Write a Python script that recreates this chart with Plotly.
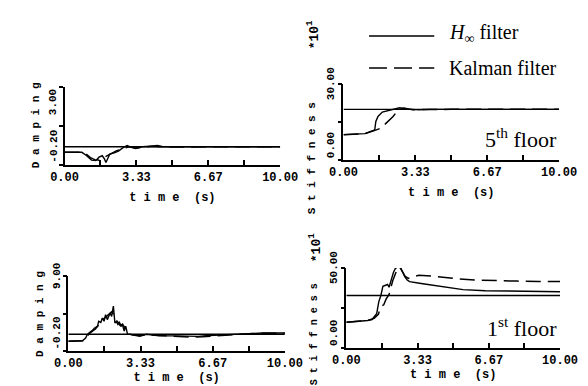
import plotly.graph_objects as go

W, H = 588, 386

# ---------------- data ----------------
time_span = [0, 10]

# 5th floor damping
damp5_true = [0.55, 0.55]
damp5_hinf_t = [0, 0.8, 1.0, 1.15, 1.25, 1.45, 1.6, 1.75, 1.85, 1.92, 2.0, 2.1, 2.3, 2.5, 2.7, 2.9,
                3.1, 3.3, 3.6, 4.0, 4.4, 5.0, 6.0, 7.0, 8.0, 9.0, 10.0]
damp5_hinf_v = [0.32, 0.32, 0.2, 0.07, 0.0, -0.02, 0.12, 0.18, 0.05, -0.1, 0.05, 0.25, 0.3, 0.37, 0.5, 0.6,
                0.52, 0.48, 0.55, 0.57, 0.55, 0.55, 0.55, 0.56, 0.55, 0.55, 0.55]
damp5_kal_t = [0, 0.8, 1.0, 1.2, 1.4, 1.6, 1.8, 2.0, 2.2, 2.4, 2.6, 2.8, 3.0, 3.3, 3.6, 4.0, 4.3, 4.6,
               5.0, 6.0, 7.0, 8.0, 9.0, 10.0]
damp5_kal_v = [0.32, 0.32, 0.25, 0.1, 0.02, 0.0, 0.1, 0.2, 0.28, 0.38, 0.45, 0.5, 0.55, 0.5, 0.52, 0.57,
               0.6, 0.55, 0.54, 0.55, 0.55, 0.55, 0.55, 0.55]

# 5th floor stiffness (*10^1)
stif5_true = [20.0, 20.0]
stif5_hinf_t = [0, 0.5, 1.0, 1.23, 1.45, 1.5, 1.6, 1.8, 2.0, 2.3, 2.6, 3.0, 3.5, 4.0, 5.0, 6.0, 7.0,
                8.0, 9.0, 10.0]
stif5_hinf_v = [10.0, 10.1, 10.4, 11.2, 11.9, 15.2, 17.2, 18.9, 19.4, 20.1, 20.6, 20.1, 19.8, 20.0,
                20.0, 20.0, 20.0, 20.0, 20.0, 20.0]
stif5_kal_t = [0, 1.0, 1.4, 1.6, 1.8, 1.9, 2.1, 2.3, 2.45, 2.6, 2.8, 3.2, 3.6, 4.0, 5.0, 6.0, 7.0,
               8.0, 9.0, 10.0]
stif5_kal_v = [10.0, 10.4, 11.5, 12.0, 12.8, 13.9, 15.5, 17.2, 18.8, 20.0, 20.5, 19.8, 19.9, 20.0,
               20.0, 20.0, 20.0, 20.0, 20.0, 20.0]

# 1st floor damping
damp1_true = [1.85, 1.85]
damp1_hinf_t = [0, 0.65, 0.8, 0.87, 0.99, 1.1, 1.2, 1.35, 1.4, 1.5, 1.57, 1.65, 1.72, 1.8, 1.93, 2.0,
                2.08, 2.15, 2.22, 2.29, 2.36, 2.44, 2.5, 2.58, 2.65, 2.73, 2.95, 3.3, 3.6, 4.2, 4.9,
                5.5, 6.0, 6.5, 7.0, 8.0, 9.0, 10.0]
damp1_hinf_v = [1.0, 1.05, 1.4, 1.8, 2.1, 2.3, 2.6, 2.85, 3.45, 3.3, 3.85, 3.45, 4.25, 3.65, 4.45, 4.05,
                5.3, 3.25, 3.4, 3.05, 3.3, 2.85, 3.0, 2.25, 2.85, 1.9, 1.8, 1.6, 1.85, 1.65, 1.65,
                1.6, 1.6, 1.7, 1.75, 1.9, 2.0, 2.0]
damp1_kal_t = [0, 0.7, 0.85, 0.95, 1.1, 1.25, 1.4, 1.5, 1.6, 1.7, 1.8, 1.9, 2.0, 2.1, 2.2, 2.3, 2.4,
               2.5, 2.6, 2.7, 2.8, 3.0, 3.3, 3.7, 4.2, 5.0, 5.6, 6.2, 6.8, 7.5, 8.5, 10.0]
damp1_kal_v = [1.0, 1.05, 1.5, 1.9, 2.2, 2.5, 3.0, 3.4, 3.7, 3.9, 4.1, 4.3, 4.6, 4.3, 3.6, 3.3, 2.9,
               3.1, 2.7, 2.1, 1.9, 1.75, 1.7, 1.8, 1.7, 1.55, 1.5, 1.55, 1.65, 1.8, 1.95, 2.0]

# 1st floor stiffness (*10^1)
stif1_true = [32.8, 32.8]
stif1_hinf_t = [0, 0.5, 1.0, 1.2, 1.42, 1.52, 1.62, 1.71, 1.85, 1.93, 2.0, 2.1, 2.2, 2.28, 2.37, 2.45,
                2.52, 2.63, 2.74, 2.85, 2.96, 3.5, 4.5, 5.46, 6.5, 7.5, 8.5, 9.5, 10.0]
stif1_hinf_v = [16.1, 16.5, 17.2, 17.8, 21.5, 29.0, 33.0, 38.6, 39.5, 39.7, 38.0, 43.0, 47.0, 49.4,
                50.5, 51.5, 50.8, 47.0, 44.5, 42.5, 41.5, 40.3, 38.3, 36.5, 35.8, 35.6, 35.6, 35.4, 35.2]
stif1_kal_t = [0, 1.0, 1.3, 1.5, 1.6, 1.75, 1.86, 2.0, 2.17, 2.3, 2.4, 2.5, 2.6, 2.74, 2.9, 3.1, 3.4,
               4.0, 5.0, 6.0, 7.0, 8.0, 9.0, 10.0]
stif1_kal_v = [16.1, 17.2, 18.5, 21.0, 25.7, 27.0, 30.5, 33.5, 42.0, 47.0, 50.0, 50.5, 48.0, 45.0,
               43.5, 44.5, 45.5, 45.0, 43.5, 42.5, 42.0, 41.8, 41.6, 41.5]

x_tickvals = [0, 10 / 3, 20 / 3, 10]
x_ticktext = ["0.00", "3.33", "6.67", "10.00"]
x_minor_vals = [10 / 6, 5, 50 / 6]

panels = [
    # (suffix, xdom px, ydom px, yrange, true, hinf_t, hinf_v, kal_t, kal_v)
    ("", (45, 273), (79, 157), (-0.2, 3.0), damp5_true, damp5_hinf_t, damp5_hinf_v, damp5_kal_t, damp5_kal_v),
    ("2", (340, 568), (76, 152), (0.0, 30.0), stif5_true, stif5_hinf_t, stif5_hinf_v, stif5_kal_t, stif5_kal_v),
    ("3", (49, 278), (268, 343), (-0.2, 9.0), damp1_true, damp1_hinf_t, damp1_hinf_v, damp1_kal_t, damp1_kal_v),
    ("4", (343, 569), (260, 340), (0.0, 50.0), stif1_true, stif1_hinf_t, stif1_hinf_v, stif1_kal_t, stif1_kal_v),
]


def px(x):
    return x / W


def py(y):
    return 1 - y / H


MONO = "Liberation Mono"
SERIF = "Liberation Serif"
DASH = "15px,7px"

fig = go.Figure()
layout = dict(
    width=W, height=H, margin=dict(l=0, r=0, t=0, b=0),
    paper_bgcolor="white", plot_bgcolor="white", showlegend=False,
)

for (suf, xd, yd, yr, tv, ht, hv, kt, kv) in panels:
    xa, ya = "x" + suf, "y" + suf
    fig.add_trace(go.Scatter(x=time_span, y=tv, mode="lines", xaxis=xa, yaxis=ya,
                             line=dict(color="black", width=1.4)))
    fig.add_trace(go.Scatter(x=kt, y=kv, mode="lines", xaxis=xa, yaxis=ya,
                             line=dict(color="black", width=1.5, dash=DASH)))
    fig.add_trace(go.Scatter(x=ht, y=hv, mode="lines", xaxis=xa, yaxis=ya,
                             line=dict(color="black", width=1.4)))
    top_row = suf in ("", "2")
    layout["xaxis" + suf] = dict(
        domain=[px(xd[0]), px(xd[1])], anchor=ya, range=[0, 10],
        showgrid=False, zeroline=False, showline=True, linecolor="black", linewidth=1.5,
        ticks="inside", ticklen=5, tickwidth=1.5, tickcolor="black",
        tickvals=x_tickvals, ticktext=x_ticktext,
        minor=dict(tickvals=x_minor_vals, ticks="inside", ticklen=5, tickwidth=1.5,
                   tickcolor="black", showgrid=False),
        tickfont=dict(family=MONO, size=12, color="black", weight="bold"),
        title=dict(text="t i m e  (s)", font=dict(family=MONO, size=12, color="black", weight="bold"),
                   standoff=8 if top_row else 2),
    )
    ymid = (yr[0] + yr[1]) / 2
    layout["yaxis" + suf] = dict(
        domain=[py(yd[1]), py(yd[0])], anchor=xa, range=list(yr),
        showgrid=False, zeroline=False, showline=True, linecolor="black", linewidth=1.5,
        ticks="outside", ticklen=4, tickwidth=1.5, tickcolor="black",
        tickvals=[yr[0], ymid, yr[1]], showticklabels=False,
    )

lab_font = dict(family=MONO, size=11, color="black", weight="bold")
tick_font = dict(family=MONO, size=11, color="black", weight="bold")
ann = []
# y tick labels (rotated)
ytl = [
    dict(x=px(33), y=3.0, yref="y", text="3.00", yanchor="top"),
    dict(x=px(33), y=-0.2, yref="y", text="-0.20", yanchor="bottom"),
    dict(x=px(327), y=30.0, yref="y2", text="30.00", yanchor="middle"),
    dict(x=px(327), y=0.0, yref="y2", text="0.00", yanchor="bottom"),
    dict(x=px(37), y=9.0, yref="y3", text="9.00", yanchor="middle"),
    dict(x=px(37), y=-0.2, yref="y3", text="-0.20", yanchor="bottom"),
    dict(x=px(330), y=50.0, yref="y4", text="50.00", yanchor="middle"),
    dict(x=px(330), y=0.0, yref="y4", text="0.00", yanchor="bottom"),
]
for a in ytl:
    a.update(xref="paper", textangle=-90, showarrow=False, xanchor="center", font=tick_font)
ann += ytl

titles = [
    dict(x=px(15), y=py(117), text="D a m p i n g", font=lab_font),
    dict(x=px(19), y=py(306), text="D a m p i n g", font=lab_font),
    dict(x=px(307), y=py(150), text="S t i f f n e s s", font=lab_font),
    dict(x=px(307), y=py(27), text="*10<sup>1</sup>", font=dict(lab_font, size=13)),
    dict(x=px(309), y=py(326), text="S t i f f n e s s", font=dict(lab_font, size=10)),
    dict(x=px(309), y=py(240), text="*10<sup>1</sup>", font=dict(lab_font, size=13)),
]
for a in titles:
    a.update(xref="paper", yref="paper", textangle=-90, showarrow=False,
             xanchor="center", yanchor="middle")
ann += titles

serif = dict(family=SERIF, size=20, color="black")
leg = [
    dict(x=px(449), y=py(25), text="<i>H</i><sub>∞</sub> filter"),
    dict(x=px(449), y=py(60), text="Kalman filter"),
]
for a in leg:
    a.update(xref="paper", yref="paper", showarrow=False, font=serif,
             xanchor="left", yanchor="middle")
ann += leg

floor_font = dict(family=SERIF, size=22, color="black")
ann += [
    dict(x=px(568), y=py(130), text="5<sup>th</sup> floor", xref="paper", yref="paper",
         xanchor="right", yanchor="middle", showarrow=False, font=floor_font),
    dict(x=px(568), y=py(319), text="1<sup>st</sup> floor", xref="paper", yref="paper",
         xanchor="right", yanchor="middle", showarrow=False, font=floor_font),
]
layout["annotations"] = ann

layout["shapes"] = [
    dict(type="line", xref="paper", yref="paper", x0=px(367), x1=px(436), y0=py(28), y1=py(28),
         line=dict(color="black", width=1.5)),
    dict(type="line", xref="paper", yref="paper", x0=px(367), x1=px(436), y0=py(60), y1=py(60),
         line=dict(color="black", width=1.5, dash="18px,7px")),
]

fig.update_layout(**layout)
fig.write_html("out.html")
